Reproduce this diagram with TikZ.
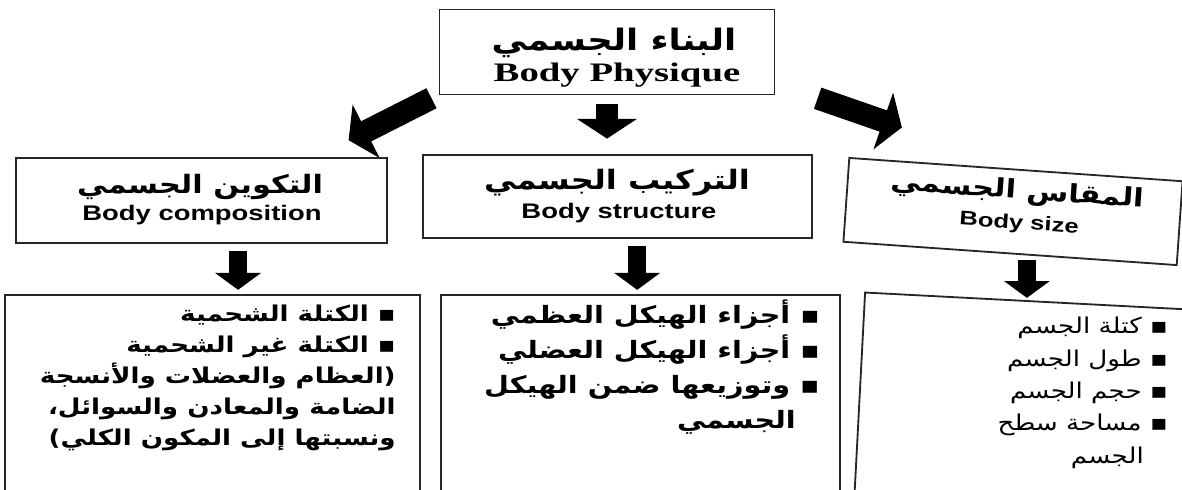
\documentclass[tikz,border=0pt]{standalone}
\usepackage{fontspec}
\setmainfont{Liberation Sans}[FakeStretch=1.3]
\newfontfamily\arabicfont[Script=Arabic,FakeStretch=1.2]{DejaVu Sans}
\newfontfamily\titlefont[FakeStretch=1.45]{Liberation Serif}
\TeXXeTstate=1
\usetikzlibrary{arrows.meta}

\begin{document}
\begin{tikzpicture}[x=0.025cm, y=-0.025cm,
    box/.style={draw=black!85, line width=1.3pt, inner sep=0pt},
    bigarrow/.style={line width=16pt, -{Triangle[width=42pt, length=14pt]}},
    smallarrow/.style={line width=13pt, -{Triangle[width=32pt, length=12pt]}},
    arhead/.style={inner sep=0pt, font=\arabicfont\bfseries\fontsize{18}{20}\selectfont},
    enhead/.style={inner sep=0pt, font=\bfseries\fontsize{15}{18}\selectfont},
    listtext/.style={align=right, anchor=north east, inner sep=0pt},
  ]
  \useasboundingbox (0,0) rectangle (1182,489);
  \clip (0,0) rectangle (1182,489);

  % top box
  \node[box, minimum width=8.375cm, minimum height=2.125cm] (physique) at (607,52) {};
  \node[arhead, font=\arabicfont\bfseries\fontsize{21}{24}\selectfont] (physiquear) at (614,43) {\beginR البناء الجسمي\endR};
  \node[inner sep=0pt, font=\titlefont\bfseries\fontsize{19}{20}\selectfont] (physiqueen) at (617,75) {Body Physique};

  % second row
  \node[box, minimum width=9.275cm, minimum height=2.125cm] (composition) at (201.5,200.5) {};
  \node[arhead] (compositionar) at (200,187) {\beginR التكوين الجسمي\endR};
  \node[enhead] (compositionen) at (202,215) {Body composition};

  \node[box, minimum width=9.725cm, minimum height=2.075cm] (structure) at (617.5,196.5) {};
  \node[arhead, font=\arabicfont\bfseries\fontsize{19}{20}\selectfont] (structurear) at (617,183) {\beginR التركيب الجسمي\endR};
  \node[enhead] (structureen) at (619,213) {Body structure};

  \node[box, minimum width=8.35cm, minimum height=2.1cm, rotate=-4] (size) at (1013,211.5) {};
  \node[arhead, rotate=-4] (sizear) at (1017,192) {\beginR المقاس الجسمي\endR};
  \node[enhead, font=\bfseries\fontsize{14}{18}\selectfont, rotate=-4] (sizeen) at (1019,224) {Body size};

  % third row
  \node[box, minimum width=10.375cm, minimum height=5.625cm] (fatbox) at (212.5,407.5) {};
  \node[box, minimum width=9.975cm, minimum height=5.625cm] (skeletonbox) at (640.5,407.5) {};
  \node[box, minimum width=8.7cm, minimum height=5.625cm, rotate=-3] (measurebox) at (1033,414) {};

  \node[listtext, font=\arabicfont\bfseries\fontsize{15.5}{22}\selectfont] (fattext) at (396,305)
    {\beginR ▪ الكتلة الشحمية\endR\\
     \beginR ▪ الكتلة غير الشحمية\endR\\
     \beginR (العظام والعضلات والأنسجة\endR\\
     \beginR الضامة والمعادن والسوائل،\endR\\
     \beginR ونسبتها إلى المكون الكلي)\endR};
  \node[listtext, font=\arabicfont\bfseries\fontsize{17}{25}\selectfont] (skeletontext) at (820,299)
    {\beginR ▪ أجزاء الهيكل العظمي\endR\\
     \beginR ▪ أجزاء الهيكل العضلي\endR\\
     \beginR ▪ وتوزيعها ضمن الهيكل\endR\\
     \beginR\hspace{17pt}الجسمي\endR};
  \node[listtext, font=\arabicfont\fontsize{15.5}{23}\selectfont] (measuretext) at (1168,317)
    {\beginR ▪ كتلة الجسم\endR\\
     \beginR ▪ طول الجسم\endR\\
     \beginR ▪ حجم الجسم\endR\\
     \beginR ▪ مساحة سطح\endR\\
     \beginR\hspace{17pt}الجسم\endR};

  % arrows from the top box
  \draw[bigarrow] ([xshift=-5pt, yshift=-2pt]physique.south west) -- ([xshift=-28pt, yshift=12pt]composition.north east);
  \draw[bigarrow, shorten <=6pt, shorten >=11pt] (physique.south) -- (physique.south |- structure.north);
  \draw[bigarrow] ([xshift=30pt, yshift=-2pt]physique.south east) -- ([xshift=38pt, yshift=21pt]size.north west);

  % arrows to the lists
  \coordinate (c1) at ([xshift=26pt]composition.south);
  \coordinate (c2) at ([xshift=14pt]structure.south);
  \coordinate (c3) at ([xshift=12pt]size.south);
  \draw[smallarrow, shorten <=5pt, shorten >=3pt] (c1) -- (c1 |- fatbox.north);
  \draw[smallarrow, shorten <=5pt, shorten >=3pt] (c2) -- (c2 |- skeletonbox.north);
  \draw[smallarrow, shorten <=4pt, shorten >=2pt] (c3) -- (c3 |- measurebox.north);
\end{tikzpicture}
\end{document}
